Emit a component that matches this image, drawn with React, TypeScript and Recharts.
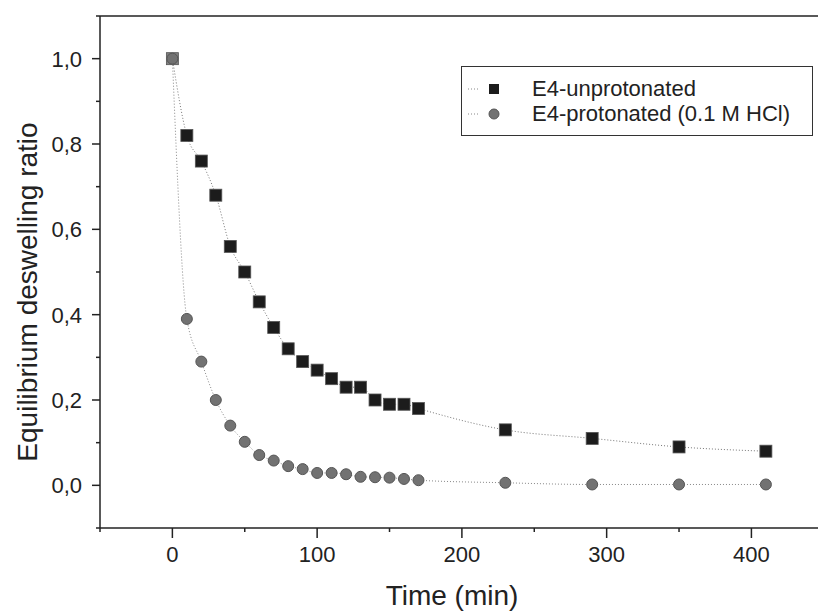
import React from "react";
import { ComposedChart, Line, XAxis, YAxis, ReferenceLine, Label } from "recharts";

const FONT = '"Liberation Sans", Arial, Helvetica, sans-serif';
const INK = "#222";
const TICK_SIZE = 8;
const TICK_MARGIN = 10;

// time (min)
const times = [0, 10, 20, 30, 40, 50, 60, 70, 80, 90, 100, 110, 120, 130, 140, 150, 160, 170, 230, 290, 350, 410];
// E4-unprotonated
const unprotonated = [1.0, 0.82, 0.76, 0.68, 0.56, 0.5, 0.43, 0.37, 0.32, 0.29, 0.27, 0.25, 0.23, 0.23, 0.2, 0.19, 0.19, 0.18, 0.13, 0.11, 0.09, 0.08];
// E4-protonated (0.1 M HCl)
const protonated = [1.0, 0.39, 0.29, 0.2, 0.14, 0.102, 0.071, 0.058, 0.045, 0.038, 0.029, 0.029, 0.026, 0.02, 0.019, 0.018, 0.015, 0.012, 0.006, 0.002, 0.002, 0.002];

const xMajor = [0, 100, 200, 300, 400];
const xMinor = [-50, 50, 150, 250, 350];
const yMajor = [0, 0.2, 0.4, 0.6, 0.8, 1.0];
const yMinor = [-0.1, 0.1, 0.3, 0.5, 0.7, 0.9, 1.1];

const data = times.map((t, i) => ({ t, unprot: unprotonated[i], prot: protonated[i] }));

const isMajor = (list: number[], v: number) => list.some((m) => Math.abs(m - v) < 1e-6);

function YTick(props: any) {
  const { x, y, payload } = props;
  const major = isMajor(yMajor, payload.value);
  const axisX = x + TICK_MARGIN + TICK_SIZE;
  return (
    <g>
      <line x1={axisX} x2={axisX - (major ? TICK_SIZE : 4)} y1={y} y2={y} stroke={INK} strokeWidth={1.5} />
      {major && (
        <text x={x} y={y} dy="0.36em" textAnchor="end" fontFamily={FONT} fontSize={22} fill={INK}>
          {payload.value.toFixed(1).replace(".", ",")}
        </text>
      )}
    </g>
  );
}

function XTick(props: any) {
  const { x, y, payload } = props;
  const major = isMajor(xMajor, payload.value);
  const axisY = y - TICK_SIZE - TICK_MARGIN;
  return (
    <g>
      <line x1={x} x2={x} y1={axisY} y2={axisY + (major ? TICK_SIZE + 2 : 4)} stroke={INK} strokeWidth={1.5} />
      {major && (
        <text x={x} y={y} dy="0.71em" textAnchor="middle" fontFamily={FONT} fontSize={22} fill={INK}>
          {payload.value}
        </text>
      )}
    </g>
  );
}

const squareDot = (props: any) => {
  const { cx, cy, index } = props;
  if (cx == null || cy == null) return <g key={`sq-${index}`} />;
  return (
    <rect
      key={`sq-${index}`}
      x={cx - 6}
      y={cy - 6}
      width={12}
      height={12}
      fill={index === 0 ? "#808080" : "#1c1c1c"}
      stroke="#555"
      strokeWidth={0.8}
    />
  );
};

const circleDot = (props: any) => {
  const { cx, cy, index } = props;
  if (cx == null || cy == null) return <g key={`ci-${index}`} />;
  return <circle key={`ci-${index}`} cx={cx} cy={cy} r={5.5} fill="#727272" stroke="#555" strokeWidth={1} />;
};

const yTitle = (p: any) => {
  const vb = p.viewBox;
  const cx = vb.x + 27;
  const cy = vb.y + vb.height / 2 + 20;
  return (
    <text
      x={cx}
      y={cy}
      transform={`rotate(-90, ${cx}, ${cy})`}
      textAnchor="middle"
      dominantBaseline="central"
      fontFamily={FONT}
      fontSize={28}
      fill={INK}
    >
      Equilibrium deswelling ratio
    </text>
  );
};

const xTitle = (p: any) => {
  const vb = p.viewBox;
  return (
    <text x={vb.x + vb.width / 2 - 7} y={vb.y + vb.height - 7} textAnchor="middle" fontFamily={FONT} fontSize={28} fill={INK}>
      Time (min)
    </text>
  );
};

function LegendBox() {
  const row = (symbol: React.ReactNode, text: string) => (
    <div style={{ display: "flex", alignItems: "center", height: 25 }}>
      <svg width={70} height={20} style={{ flex: "none" }}>
        <line x1={6} x2={17} y1={10} y2={10} stroke="#888" strokeDasharray="1 2" />
        {symbol}
      </svg>
      <span>{text}</span>
    </div>
  );
  return (
    <div
      style={{
        position: "absolute",
        left: 461,
        top: 66,
        border: "1px solid #333",
        background: "#fff",
        width: 352,
        height: 70,
        boxSizing: "border-box",
        paddingTop: 9,
        fontFamily: FONT,
        fontSize: 22,
        color: INK,
        lineHeight: 1,
      }}
    >
      {row(<rect x={27} y={5} width={10} height={10} fill="#1c1c1c" />, "E4-unprotonated")}
      {row(<circle cx={32} cy={10} r={5} fill="#727272" stroke="#555" />, "E4-protonated (0.1 M HCl)")}
    </div>
  );
}

export default function App() {
  return (
    <div style={{ position: "absolute", left: 0, top: 0, width: 818, height: 612, background: "#fff" }}>
      <ComposedChart width={818} height={612} data={data} margin={{ top: 16, right: 0, bottom: 0, left: 0 }}>
        <XAxis
          dataKey="t"
          type="number"
          domain={[-50, 446]}
          ticks={[...xMinor, ...xMajor].sort((a, b) => a - b)}
          interval={0}
          tickLine={false}
          tickSize={TICK_SIZE}
          tickMargin={TICK_MARGIN}
          tick={<XTick />}
          axisLine={{ stroke: INK, strokeWidth: 1.5 }}
          height={84}
          allowDataOverflow
        >
          <Label content={xTitle} />
        </XAxis>
        <YAxis
          type="number"
          domain={[-0.1, 1.1]}
          ticks={[...yMinor, ...yMajor].sort((a, b) => a - b)}
          interval={0}
          tickLine={false}
          tickSize={TICK_SIZE}
          tickMargin={TICK_MARGIN}
          tick={<YTick />}
          axisLine={{ stroke: INK, strokeWidth: 1.5 }}
          width={100}
          allowDataOverflow
        >
          <Label content={yTitle} />
        </YAxis>
        <ReferenceLine y={1.1} stroke={INK} strokeWidth={1.5} />
        <Line
          dataKey="unprot"
          type="monotone"
          stroke="#777"
          strokeWidth={1}
          strokeDasharray="1 2"
          dot={squareDot}
          activeDot={false}
          isAnimationActive={false}
        />
        <Line
          dataKey="prot"
          type="monotone"
          stroke="#888"
          strokeWidth={1}
          strokeDasharray="1 2"
          dot={circleDot}
          activeDot={false}
          isAnimationActive={false}
        />
      </ComposedChart>
      <LegendBox />
    </div>
  );
}
